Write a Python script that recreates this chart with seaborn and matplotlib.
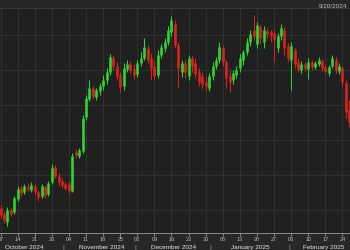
import numpy as np
import pandas as pd
import matplotlib
matplotlib.use("Agg")
import matplotlib.pyplot as plt
import matplotlib.transforms as mtransforms
import seaborn as sns

# ---- data (daily candles, business days from 2024-10-07) ----
start_date = "2024-10-07"
open_ = [42, 36, 28, 40, 38, 51, 62, 58, 63, 60, 64, 58, 54, 63, 56, 68, 83, 74, 69, 66,
         66, 59, 98, 94, 99, 133, 151, 162, 153, 159, 164, 170, 178, 192, 184, 175, 164, 181, 186, 181,
         176, 187, 192, 202, 192, 184, 175, 195, 202, 208, 218, 226, 205, 178, 187, 174, 192, 187, 178, 174,
         168, 162, 174, 184, 190, 202, 188, 174, 170, 175, 182, 190, 198, 208, 220, 206, 223, 208, 219, 218,
         217, 202, 214, 220, 204, 190, 200, 188, 180, 186, 181, 188, 183, 186, 189, 183, 177, 184, 190, 179,
         182, 167, 140]
close = [35, 30, 40, 36, 52, 61, 57, 64, 61, 65, 58, 53, 64, 55, 67, 82, 74, 68, 65, 62,
         59, 94, 95, 100, 132, 152, 162, 154, 160, 164, 170, 178, 193, 184, 174, 163, 182, 186, 180, 175,
         187, 192, 203, 190, 182, 174, 195, 203, 208, 220, 230, 205, 182, 187, 178, 192, 184, 176, 168, 166,
         164, 174, 184, 190, 203, 188, 172, 168, 177, 180, 192, 198, 208, 216, 214, 225, 212, 220, 216, 215,
         210, 214, 222, 202, 192, 204, 186, 181, 186, 182, 188, 183, 187, 190, 182, 179, 183, 192, 180, 184,
         168, 138, 128]
high = [45, 38, 43, 42, 54, 64, 65, 66, 67, 68, 66, 60, 66, 65, 69, 86, 85, 77, 72, 68,
        69, 97, 101, 102, 135, 155, 170, 164, 162, 167, 175, 182, 196, 195, 188, 178, 187, 190, 189, 186,
        190, 198, 212, 205, 197, 190, 200, 206, 212, 224, 234, 230, 208, 190, 190, 195, 195, 192, 182, 178,
        173, 177, 188, 193, 208, 205, 190, 180, 180, 184, 196, 200, 212, 220, 235, 228, 226, 224, 222, 220,
        220, 217, 226, 223, 207, 208, 202, 192, 189, 188, 192, 190, 189, 193, 191, 186, 185, 195, 193, 187,
        184, 170, 150]
low = [32, 27, 24, 34, 36, 49, 54, 56, 59, 58, 55, 49, 52, 52, 54, 66, 72, 64, 62, 60,
       57, 58, 92, 92, 97, 130, 149, 151, 150, 155, 160, 166, 175, 180, 170, 158, 160, 178, 177, 171,
       173, 184, 190, 187, 170, 171, 172, 192, 198, 205, 214, 202, 163, 173, 172, 170, 178, 172, 164, 162,
       160, 159, 170, 181, 187, 184, 162, 158, 166, 172, 178, 185, 195, 204, 210, 202, 206, 202, 212, 208,
       188, 198, 210, 195, 188, 160, 182, 178, 177, 179, 171, 180, 181, 184, 179, 177, 174, 182, 177, 176,
       164, 132, 123]
header_text = "9/20/2024"

# ---- build tables ----
dates = pd.bdate_range(start_date, periods=len(close))
idx = np.arange(len(close))
direction = np.where(np.array(close) >= np.array(open_), "up", "down")
df = pd.DataFrame({"idx": idx, "date": dates, "open": open_, "close": close,
                   "high": high, "low": low, "dir": direction})
wicks = pd.concat([df[["idx", "dir"]].assign(price=df["low"]),
                   df[["idx", "dir"]].assign(price=df["high"])]).sort_values("idx")
bodies = pd.concat([df[["idx", "dir"]].assign(price=df["open"]),
                    df[["idx", "dir"]].assign(price=df["close"])]).sort_values("idx")

GREEN = "#2fd42f"
RED = "#d9231c"
pal = {"up": GREEN, "down": RED}
BG = "#1f201f"
FIG_BG = "#262726"

sns.set_theme(style="dark", rc={"axes.facecolor": BG, "figure.facecolor": FIG_BG})
plt.rcParams["font.family"] = ["Liberation Sans", "DejaVu Sans"]

fig = plt.figure(figsize=(3.5, 2.5), dpi=100)
ax = fig.add_axes([0, 17 / 250, 1, 225 / 250])

sns.lineplot(data=wicks, x="idx", y="price", units="idx", estimator=None, hue="dir",
             palette=pal, lw=0.75, legend=False, sort=False, ax=ax, solid_capstyle="butt")
sns.lineplot(data=bodies, x="idx", y="price", units="idx", estimator=None, hue="dir",
             palette=pal, lw=1.9, legend=False, sort=False, ax=ax, solid_capstyle="butt")

ax.set_xlim(-0.15, 102.2)
ax.set_ylim(17, 242)
ax.set_xlabel("")
ax.set_ylabel("")

# weekly ticks (Mondays)
mondays = df.index[df["date"].dt.dayofweek == 0]
ax.set_xticks(mondays)
ax.set_xticklabels([d.strftime("%d") for d in df.loc[mondays, "date"]])
ax.set_yticks([40, 75, 110, 145, 180, 215])
ax.set_yticklabels([])
ax.grid(True, color="#333533", lw=0.6)
ax.tick_params(axis="x", colors="#b8b8b8", labelsize=4, length=2, width=0.5, pad=1,
               direction="out", bottom=True)
ax.tick_params(axis="y", length=0)
for s in ["left", "right"]:
    ax.spines[s].set_visible(False)
ax.spines["bottom"].set_color("#9a9a9a")
ax.spines["bottom"].set_linewidth(0.6)
ax.spines["top"].set_color("#3a3c3a")
ax.spines["top"].set_linewidth(0.6)

# month labels centered on full months
trans = mtransforms.blended_transform_factory(ax.transData, ax.transAxes)
start = np.datetime64(start_date)
months = pd.period_range("2024-10", "2025-02", freq="M")
for i, m in enumerate(months):
    first = np.datetime64(m.start_time.date())
    last = np.datetime64(m.end_time.date())
    i0 = np.busday_count(start, first) if first >= start else -np.busday_count(first, start)
    i1 = np.busday_count(start, last) if last >= start else -np.busday_count(last, start)
    center = (i0 + i1) / 2
    label = m.strftime("%B %Y")
    ax.text(center, -0.064, label, transform=trans, ha="center", va="center",
            fontsize=4.6, color="#e6e6e6", clip_on=False)
    if i > 0:
        ax.text(i0 - 0.6, -0.064, "|", transform=trans, ha="center", va="center",
                fontsize=4.6, color="#9a9a9a", clip_on=False)

fig.text(0.992, 0.985, header_text, ha="right", va="top", fontsize=4.6, color="#bdbdbd")

fig.savefig("out.png", dpi=100, facecolor=FIG_BG)
